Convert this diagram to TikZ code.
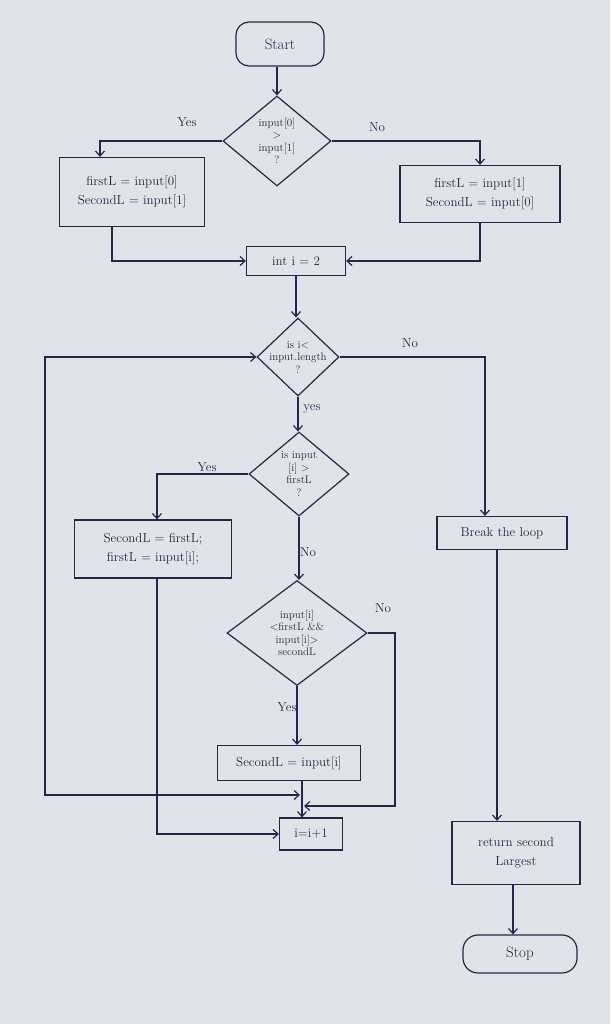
\documentclass[tikz,border=0pt]{standalone}
\usetikzlibrary{shapes.geometric,arrows.meta}
\definecolor{paper}{RGB}{226,226,233}
\definecolor{ink}{RGB}{38,38,72}
\begin{document}
\begin{tikzpicture}[x=1pt,y=-1pt,color=ink,line width=1.2pt,
  box/.style={draw,rectangle,inner sep=0pt,align=center,font=\fontsize{13}{19}\selectfont},
  term/.style={draw,rectangle,rounded corners=13pt,inner sep=0pt,font=\fontsize{15}{17}\selectfont},
  dia/.style={draw,diamond,inner sep=0pt},
  dtxt/.style={align=center,inner sep=0pt,font=\fontsize{11}{12.5}\selectfont},
  lab/.style={font=\fontsize{13}{15}\selectfont},
  arr/.style={-{Straight Barb[length=5pt,width=9pt]}},
  barr/.style={{Straight Barb[length=5pt,width=9pt]}-{Straight Barb[length=5pt,width=9pt]}}]
\fill[paper] (0,0) rectangle (610,1024);
\useasboundingbox (0,0) rectangle (610,1024);

% terminals and boxes
\node[term,minimum width=88pt,minimum height=44pt] (start) at (280,44) {Start};
\node[box,minimum width=145pt,minimum height=69pt] (l1) at (132,192) {firstL = input[0]\\SecondL = input[1]};
\node[box,minimum width=160pt,minimum height=57pt] (r1) at (480,194) {firstL = input[1]\\SecondL = input[0]};
\node[box,minimum width=99pt,minimum height=29pt] (int) at (296,261) {int i = 2};
\node[box,minimum width=157pt,minimum height=58pt] (l2) at (153,549) {SecondL = firstL;\\firstL = input[i];};
\node[box,minimum width=143pt,minimum height=35pt] (b2) at (289,763) {SecondL = input[i]};
\node[box,minimum width=63pt,minimum height=32pt] (inc) at (311,834) {i=i+1};
\node[box,minimum width=130pt,minimum height=33pt] (brk) at (502,533) {Break the loop};
\node[box,minimum width=128pt,minimum height=63pt] (ret) at (516,853) {return second\\Largest};
\node[term,rounded corners=15pt,minimum width=114pt,minimum height=38pt] (stop) at (520,954) {Stop};

% decisions
\node[dia,minimum width=108pt,minimum height=90pt] (d1) at (277,141) {};
\node[dtxt] (d1t) at (d1) {input[0]\\$>$\\input[1]\\?};
\node[dia,minimum width=82pt,minimum height=78pt] (d2) at (298,357) {};
\node[dtxt] (d2t) at (d2) {is i$<$\\input.length\\?};
\node[dia,minimum width=100pt,minimum height=84pt] (d3) at (299,474) {};
\node[dtxt] (d3t) at (d3) {is input\\{}[i] $>$\\firstL\\?};
\node[dia,minimum width=140pt,minimum height=105pt] (d4) at (297,633) {};
\node[dtxt] (d4t) at (d4) {input[i]\\$<$firstL \&\&\\input[i]$>$\\secondL};

% labels
\node[lab] (y1) at (187,122) {Yes};
\node[lab] (n1) at (377,127) {No};
\node[lab] (n2) at (410,343) {No};
\node[lab] (y2) at (312,409) {yes};
\node[lab] (y3) at (207,467) {Yes};
\node[lab] (n3) at (308,552) {No};
\node[lab] (n4) at (383,608) {No};
\node[lab] (y4) at (287,707) {Yes};

% helper coordinates
\coordinate (vx) at (302,0);
\coordinate (nr) at (395,806);
\coordinate (jr) at (304,806);
\coordinate (lp) at (45,700);
\coordinate (jl) at (300,795);

% connectors
\draw[arr] (d1.north |- start.south) -- (d1.north);
\draw[arr] (d1.west) -| ([xshift=-32pt]l1.north);
\draw[arr] (d1.east) -| (r1.north);
\draw[arr] ([xshift=-20pt]l1.south) |- (int.west);
\draw[arr] (r1.south) |- (int.east);
\draw[arr] (int.south) -- (int.south |- d2.north);
\draw[arr] (d2.east) -| ([xshift=-17pt]brk.north);
\draw[arr] (d2.south) -- (d2.south |- d3.north);
\draw[arr] (d3.west) -| ([xshift=4pt]l2.north);
\draw[arr] (d3.south) -- (d3.south |- d4.north);
\draw[arr] (d4.south) -- (d4.south |- b2.north);
\draw[arr] (d4.east) -| (nr) -- (jr);
\draw[arr] (b2.south -| vx) -- (inc.north -| vx);
\draw[arr] ([xshift=4pt]l2.south) |- (inc.west);
\draw[barr] (d2.west) -| (lp) |- (jl);
\draw[arr] ([xshift=-5pt]brk.south) -- ([xshift=-5pt]brk.south |- ret.north);
\draw[arr] ([xshift=-3pt]ret.south) -- ([xshift=-3pt]ret.south |- stop.north);
\end{tikzpicture}
\end{document}
